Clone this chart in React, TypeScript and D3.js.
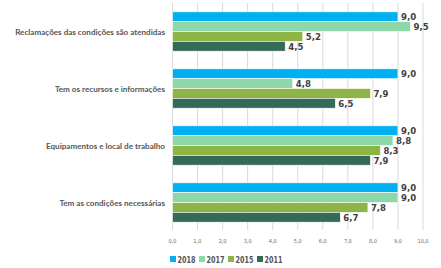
import { useEffect, useRef } from 'react';
import * as d3 from 'd3';

const categories = [
  'Reclamações das condições são atendidas',
  'Tem os recursos e informações',
  'Equipamentos e local de trabalho',
  'Tem as condições necessárias',
];
const years = ['2018', '2017', '2015', '2011'];
const values2018 = [9.0, 9.0, 9.0, 9.0];
const values2017 = [9.5, 4.8, 8.8, 9.0];
const values2015 = [5.2, 7.9, 8.3, 7.8];
const values2011 = [4.5, 6.5, 7.9, 6.7];
const xTicks = [0, 1, 2, 3, 4, 5, 6, 7, 8, 9, 10];

const colors = ['#00b0f0', '#8dd7a9', '#8db545', '#336a58'];
const narrow = '"DejaVu Sans", sans-serif';

export default function App() {
  const ref = useRef<SVGSVGElement>(null);

  useEffect(() => {
    const left = 172.5;
    const right = 423;
    const top = 3;
    const bottom = 231;

    const svg = d3.select(ref.current);
    svg.selectAll('*').remove();

    const series = [values2018, values2017, values2015, values2011];
    const fmt = (v: number) => v.toFixed(1).replace('.', ',');

    const x = d3.scaleLinear().domain([0, 10]).range([left, right]);
    const y0 = d3
      .scaleBand()
      .domain(categories)
      .range([top, bottom])
      .paddingInner(0.31)
      .paddingOuter(0.155);
    const y1 = d3.scaleBand().domain(years).range([0, y0.bandwidth()]);

    // gridlines
    svg
      .append('g')
      .selectAll('line')
      .data(xTicks)
      .join('line')
      .attr('x1', (d) => x(d))
      .attr('x2', (d) => x(d))
      .attr('y1', top)
      .attr('y2', bottom - 1)
      .attr('stroke', '#d9d9d9')
      .attr('stroke-width', 1);

    // tick labels
    svg
      .append('g')
      .selectAll('text')
      .data(xTicks)
      .join('text')
      .attr('x', (d) => x(d))
      .attr('y', 243)
      .attr('text-anchor', 'middle')
      .attr('font-family', narrow)
      .style('font-stretch', 'condensed')
      .attr('font-size', 5.5)
      .attr('fill', '#666')
      .text((d) => fmt(d));

    // bars
    const groups = svg
      .append('g')
      .selectAll('g')
      .data(categories)
      .join('g')
      .attr('transform', (d) => `translate(0,${y0(d)})`);

    groups
      .selectAll('rect')
      .data((_, i) => years.map((yr, j) => ({ yr, j, v: series[j][i] })))
      .join('rect')
      .attr('x', x(0))
      .attr('y', (d) => y1(d.yr)!)
      .attr('width', (d) => x(d.v) - x(0))
      .attr('height', y1.bandwidth())
      .attr('fill', (d) => colors[d.j])
      .attr('stroke', '#fff')
      .attr('stroke-width', 0.6);

    groups
      .selectAll('text.val')
      .data((_, i) => years.map((yr, j) => ({ yr, j, v: series[j][i] })))
      .join('text')
      .attr('class', 'val')
      .attr('x', (d) => x(d.v) + 3)
      .attr('y', (d) => y1(d.yr)! + y1.bandwidth() / 2 + 3.5)
      .attr('font-family', narrow)
      .style('font-stretch', 'condensed')
      .attr('font-weight', 'bold')
      .attr('font-size', 9.5)
      .attr('fill', '#404040')
      .text((d) => fmt(d.v));

    // category labels
    svg
      .append('g')
      .selectAll('text')
      .data(categories)
      .join('text')
      .attr('x', 165)
      .attr('y', (d) => y0(d)! + y0.bandwidth() / 2 + 3)
      .attr('text-anchor', 'end')
      .attr('font-family', 'Lato, sans-serif')
      .attr('font-weight', 'bold')
      .attr('font-size', 8.1)
      .attr('fill', '#555')
      .text((d) => d);

    // legend
    const legend = svg
      .append('g')
      .selectAll('g')
      .data(years)
      .join('g')
      .attr('transform', (_, i) => `translate(${170 + i * 29},256)`);
    legend
      .append('rect')
      .attr('width', 6)
      .attr('height', 6)
      .attr('fill', (_, i) => colors[i]);
    legend
      .append('text')
      .attr('x', 7.5)
      .attr('y', 6.8)
      .attr('font-family', narrow)
      .style('font-stretch', 'condensed')
      .attr('font-weight', 'bold')
      .attr('font-size', 9)
      .attr('textLength', 18)
      .attr('lengthAdjust', 'spacingAndGlyphs')
      .attr('fill', '#555')
      .text((d) => d);
  }, []);

  return (
    <svg
      ref={ref}
      width={441}
      height={268}
      style={{ position: 'absolute', left: 0, top: 0, background: '#fff' }}
    />
  );
}
